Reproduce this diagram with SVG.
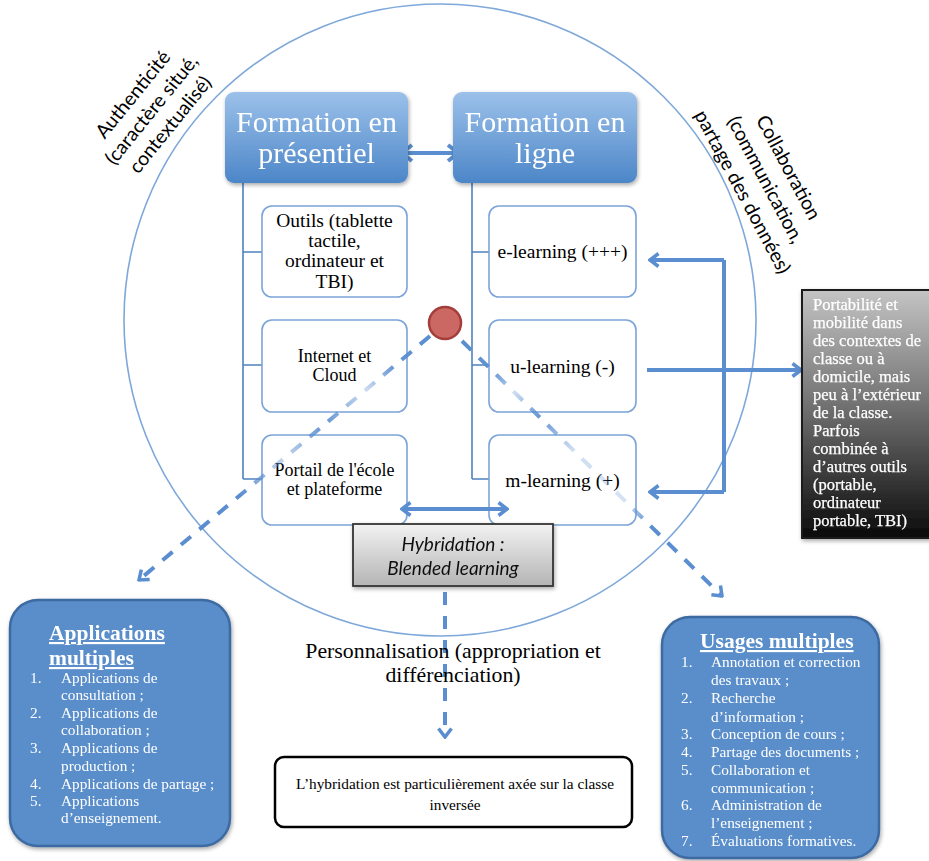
<svg xmlns="http://www.w3.org/2000/svg" width="929" height="861" viewBox="0 0 929 861">
  <style>
    .serif { font-family: "Liberation Serif", "DejaVu Serif", serif; }
    .sans { font-family: "Lato", "Liberation Sans", sans-serif; }
    .head { font-size: 30px; fill: #ffffff; text-anchor: middle; }
    .item { font-size: 19.5px; fill: #000000; text-anchor: middle; }
    .item-tight { font-size: 18px; fill: #000000; text-anchor: middle; }
    .box { fill: #ffffff; stroke: #7ba4d8; stroke-width: 1.6; }
    .tree { fill: none; stroke: #4f81bd; stroke-width: 1.6; }
    .blue-arrow { fill: none; stroke: #5b8ed0; stroke-width: 4; }
    .dash { fill: none; stroke-width: 4; stroke-dasharray: 13 11; }
    .panel { fill: #5a8eca; stroke: #3c6aa1; stroke-width: 2.5; }
    .panel-title { font-size: 21.5px; font-weight: bold; fill: #ffffff; text-decoration: underline; }
    .li { font-size: 15.3px; fill: #ffffff; }
    .gray-text { font-size: 16.5px; fill: #ffffff; stroke: #ffffff; stroke-width: 0.25; }
    .side { font-size: 19.5px; fill: #000000; text-anchor: middle; }
  </style>
  <defs>
    <linearGradient id="headGrad" x1="0" y1="0" x2="0" y2="1">
      <stop offset="0" stop-color="#9cc1ea"/>
      <stop offset="1" stop-color="#4c86c8"/>
    </linearGradient>
    <linearGradient id="darkGrad" x1="0" y1="0" x2="0" y2="1">
      <stop offset="0" stop-color="#c4c4c4"/>
      <stop offset="0.45" stop-color="#747474"/>
      <stop offset="1" stop-color="#0a0a0a"/>
    </linearGradient>
    <linearGradient id="hybGrad" x1="0" y1="0" x2="0" y2="1">
      <stop offset="0" stop-color="#f2f2f2"/>
      <stop offset="1" stop-color="#b4b4b4"/>
    </linearGradient>
    <linearGradient id="dashL" gradientUnits="userSpaceOnUse" x1="430" y1="336" x2="137" y2="582">
      <stop offset="0" stop-color="#5b8ed0" stop-opacity="1"/>
      <stop offset="0.12" stop-color="#5b8ed0" stop-opacity="0.95"/>
      <stop offset="0.22" stop-color="#5b8ed0" stop-opacity="0.3"/>
      <stop offset="0.36" stop-color="#5b8ed0" stop-opacity="0.95"/>
      <stop offset="0.5" stop-color="#5b8ed0" stop-opacity="0.35"/>
      <stop offset="0.65" stop-color="#5b8ed0" stop-opacity="1"/>
      <stop offset="1" stop-color="#5b8ed0" stop-opacity="1"/>
    </linearGradient>
    <linearGradient id="dashR" gradientUnits="userSpaceOnUse" x1="462" y1="341" x2="724" y2="598">
      <stop offset="0" stop-color="#5b8ed0" stop-opacity="1"/>
      <stop offset="0.12" stop-color="#5b8ed0" stop-opacity="0.95"/>
      <stop offset="0.2" stop-color="#5b8ed0" stop-opacity="0.3"/>
      <stop offset="0.3" stop-color="#5b8ed0" stop-opacity="0.95"/>
      <stop offset="0.42" stop-color="#5b8ed0" stop-opacity="0.3"/>
      <stop offset="0.62" stop-color="#5b8ed0" stop-opacity="0.25"/>
      <stop offset="0.72" stop-color="#5b8ed0" stop-opacity="1"/>
      <stop offset="1" stop-color="#5b8ed0" stop-opacity="1"/>
    </linearGradient>
    <filter id="shadow" x="-10%" y="-10%" width="130%" height="140%">
      <feGaussianBlur in="SourceAlpha" stdDeviation="2"/>
      <feOffset dx="1" dy="2"/>
      <feComponentTransfer><feFuncA type="linear" slope="0.35"/></feComponentTransfer>
      <feMerge><feMergeNode/><feMergeNode in="SourceGraphic"/></feMerge>
    </filter>
    <marker id="chev" viewBox="0 0 12 16" refX="10" refY="8" markerWidth="12" markerHeight="16" orient="auto-start-reverse" markerUnits="userSpaceOnUse">
      <path d="M1.5,1.5 L10,8 L1.5,14.5" fill="none" stroke="#5b8ed0" stroke-width="3.5"/>
    </marker>
    <marker id="chevBig" viewBox="0 0 14 20" refX="12" refY="10" markerWidth="14" markerHeight="20" orient="auto-start-reverse" markerUnits="userSpaceOnUse">
      <path d="M2,2 L12,10 L2,18" fill="none" stroke="#5b8ed0" stroke-width="4"/>
    </marker>
    <marker id="chevDash" viewBox="0 0 12 16" refX="10" refY="8" markerWidth="12" markerHeight="16" orient="auto" markerUnits="userSpaceOnUse">
      <path d="M1.5,1.5 L10,8 L1.5,14.5" fill="none" stroke="#5b8ed0" stroke-width="3.5"/>
    </marker>
  </defs>

  <rect width="929" height="861" fill="#ffffff"/>

  <!-- large framing circle -->
  <circle id="frame" cx="440" cy="320" r="316" fill="none" stroke="#7ea8da" stroke-width="1.6"/>

  <!-- side captions -->
  <g id="authenticite" class="sans side" transform="translate(152,110) rotate(-51)">
    <text x="0" y="-18">Authenticité</text>
    <text x="0" y="6">(caractère situé,</text>
    <text x="0" y="30">contextualisé)</text>
  </g>
  <g id="collaboration" class="sans side" transform="translate(765,180) rotate(62)">
    <text x="0" y="-20">Collaboration</text>
    <text x="0" y="6">(communication,</text>
    <text x="0" y="32">partage des données)</text>
  </g>

  <!-- connectors -->
  <g id="connectors">
    <path class="tree" d="M243,183 V479 M243,252 H262 M243,365 H262 M243,479 H262"/>
    <path class="tree" d="M472,183 V479 M472,252 H489 M472,365 H489 M472,479 H489"/>
    <line class="blue-arrow" x1="402" y1="153" x2="458" y2="153" stroke-width="4.5" marker-start="url(#chevBig)" marker-end="url(#chevBig)"/>
    <path class="blue-arrow" d="M724,260 V492"/>
    <line class="blue-arrow" x1="724" y1="260" x2="650" y2="260" marker-end="url(#chev)"/>
    <line class="blue-arrow" x1="724" y1="492" x2="650" y2="492" marker-end="url(#chev)"/>
    <line class="blue-arrow" x1="647" y1="370" x2="801" y2="370" marker-end="url(#chev)"/>
  </g>

  <!-- header nodes -->
  <g id="presentiel" filter="url(#shadow)">
    <rect x="225" y="92" width="183" height="91" rx="9" fill="url(#headGrad)"/>
    <text class="serif head" x="316.5" y="132">Formation en</text>
    <text class="serif head" x="316.5" y="163">présentiel</text>
  </g>
  <g id="enligne" filter="url(#shadow)">
    <rect x="453" y="92" width="184" height="91" rx="9" fill="url(#headGrad)"/>
    <text class="serif head" x="545" y="132">Formation en</text>
    <text class="serif head" x="545" y="163">ligne</text>
  </g>

  <!-- left column -->
  <g id="outils">
    <rect class="box" x="262" y="206" width="145" height="91" rx="10"/>
    <text class="serif item" x="334.5" y="227">Outils (tablette</text>
    <text class="serif item" x="334.5" y="247">tactile,</text>
    <text class="serif item" x="334.5" y="267">ordinateur et</text>
    <text class="serif item" x="334.5" y="288">TBI)</text>
  </g>
  <g id="internet">
    <rect class="box" x="262" y="320" width="145" height="92" rx="10"/>
    <text class="serif item-tight" x="334.5" y="362">Internet et</text>
    <text class="serif item-tight" x="334.5" y="381">Cloud</text>
  </g>
  <g id="portail">
    <rect class="box" x="262" y="435" width="145" height="90" rx="10"/>
    <text class="serif item-tight" x="334.5" y="476">Portail de l'école</text>
    <text class="serif item-tight" x="334.5" y="495">et plateforme</text>
  </g>

  <!-- right column -->
  <g id="elearning">
    <rect class="box" x="489" y="206" width="147" height="91" rx="10"/>
    <text class="serif item" x="562.5" y="258">e-learning (+++)</text>
  </g>
  <g id="ulearning">
    <rect class="box" x="489" y="320" width="147" height="92" rx="10"/>
    <text class="serif item" x="562.5" y="373">u-learning (-)</text>
  </g>
  <g id="mlearning">
    <rect class="box" x="489" y="435" width="147" height="90" rx="10"/>
    <text class="serif item" x="562.5" y="487">m-learning (+)</text>
  </g>

  <!-- link between the portal and m-learning, drawn over the boxes -->
  <g id="hybrid-link">
    <line class="blue-arrow" x1="402" y1="509" x2="507" y2="509" marker-start="url(#chev)" marker-end="url(#chev)"/>
  </g>

  <!-- dashed spokes from the centre point -->
  <g id="spokes">
    <line class="dash" x1="430" y1="336" x2="139" y2="580" stroke="url(#dashL)" marker-end="url(#chevDash)"/>
    <line class="dash" x1="462" y1="341" x2="722" y2="596" stroke="url(#dashR)" marker-end="url(#chevDash)"/>
    <line class="dash" x1="445" y1="592" x2="445" y2="737" stroke="#5b8ed0" marker-end="url(#chevDash)"/>
  </g>

  <!-- centre point -->
  <g id="centre">
    <circle cx="445" cy="323" r="16" fill="#cc6864" stroke="#a33e3a" stroke-width="2.5"/>
  </g>

  <!-- hybridation node -->
  <g id="hybridation" filter="url(#shadow)">
    <rect x="353" y="524" width="200" height="62" fill="url(#hybGrad)" stroke="#333333" stroke-width="1.8"/>
    <text class="sans" x="453" y="551" font-size="19" font-style="italic" text-anchor="middle" fill="#111">Hybridation :</text>
    <text class="sans" x="453" y="575" font-size="19" font-style="italic" text-anchor="middle" fill="#111">Blended learning</text>
  </g>

  <!-- portability note -->
  <g id="portabilite" filter="url(#shadow)">
    <rect x="802" y="290" width="140" height="248" fill="url(#darkGrad)" stroke="#1e1e1e" stroke-width="2"/>
    <g class="serif gray-text">
      <text x="813" y="310">Portabilité et</text>
      <text x="813" y="328">mobilité dans</text>
      <text x="813" y="346">des contextes de</text>
      <text x="813" y="364">classe ou à</text>
      <text x="813" y="382">domicile, mais</text>
      <text x="813" y="400">peu à l’extérieur</text>
      <text x="813" y="418">de la classe.</text>
      <text x="813" y="436">Parfois</text>
      <text x="813" y="454">combinée à</text>
      <text x="813" y="472">d’autres outils</text>
      <text x="813" y="490">(portable,</text>
      <text x="813" y="508">ordinateur</text>
      <text x="813" y="526">portable, TBI)</text>
    </g>
  </g>

  <!-- personalisation caption -->
  <g id="personnalisation" class="serif" font-size="21.8" text-anchor="middle" fill="#000">
    <text x="453" y="658">Personnalisation (appropriation et</text>
    <text x="453" y="682">différenciation)</text>
  </g>

  <!-- flipped-classroom note -->
  <g id="inversee">
    <rect x="275" y="757" width="357" height="70" rx="9" fill="#ffffff" stroke="#000000" stroke-width="2.5"/>
    <text class="serif" x="455" y="789" font-size="15.3" text-anchor="middle">L’hybridation est particulièrement axée sur la classe</text>
    <text class="serif" x="455" y="810" font-size="15.3" text-anchor="middle">inversée</text>
  </g>

  <!-- applications panel -->
  <g id="applications" filter="url(#shadow)">
    <rect class="panel" x="10" y="600" width="220" height="246" rx="28"/>
    <text class="serif panel-title" x="49" y="640">Applications</text>
    <text class="serif panel-title" x="49" y="665">multiples</text>
    <g class="serif li">
      <text x="30" y="683">1.</text><text x="61" y="683">Applications de</text>
      <text x="61" y="700">consultation ;</text>
      <text x="30" y="718">2.</text><text x="61" y="718">Applications de</text>
      <text x="61" y="735">collaboration ;</text>
      <text x="30" y="753">3.</text><text x="61" y="753">Applications de</text>
      <text x="61" y="771">production ;</text>
      <text x="30" y="789">4.</text><text x="61" y="789">Applications de partage ;</text>
      <text x="30" y="806">5.</text><text x="61" y="806">Applications</text>
      <text x="61" y="823">d’enseignement.</text>
    </g>
  </g>

  <!-- usages panel -->
  <g id="usages" filter="url(#shadow)">
    <rect class="panel" x="662" y="617" width="217" height="241" rx="28"/>
    <text class="serif panel-title" x="700" y="648">Usages multiples</text>
    <g class="serif li">
      <text x="681" y="667">1.</text><text x="711" y="667">Annotation et correction</text>
      <text x="711" y="685">des travaux ;</text>
      <text x="681" y="703">2.</text><text x="711" y="703">Recherche</text>
      <text x="711" y="722">d’information ;</text>
      <text x="681" y="739">3.</text><text x="711" y="739">Conception de cours ;</text>
      <text x="681" y="757">4.</text><text x="711" y="757">Partage des documents ;</text>
      <text x="681" y="775">5.</text><text x="711" y="775">Collaboration et</text>
      <text x="711" y="793">communication ;</text>
      <text x="681" y="810">6.</text><text x="711" y="810">Administration de</text>
      <text x="711" y="828">l’enseignement ;</text>
      <text x="681" y="846">7.</text><text x="711" y="846">Évaluations formatives.</text>
    </g>
  </g>
</svg>
